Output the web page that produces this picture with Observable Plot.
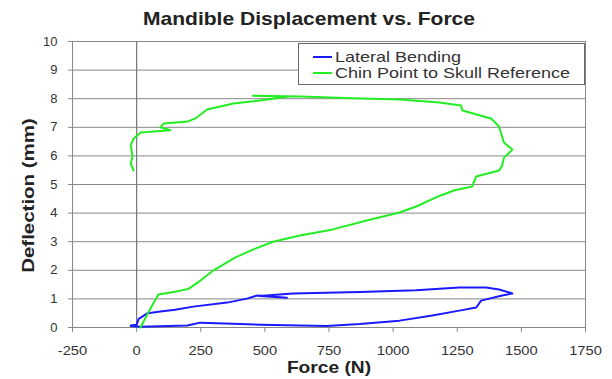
<!DOCTYPE html>
<html>
<head>
<meta charset="utf-8">
<script src="https://cdn.jsdelivr.net/npm/d3@7"></script>
<script src="https://cdn.jsdelivr.net/npm/@observablehq/plot@0.6"></script>
<style>
  body { margin: 0; background: #fff; }
  #wrap { position: relative; width: 612px; height: 379px; font-family: "Liberation Sans", Arial, sans-serif; }
  #title { height: 30px; width: 612px; box-sizing: border-box; padding-top: 9px; padding-left: 143px; font-weight: bold; font-size: 19px; line-height: 19px; color: #222; white-space: nowrap; }
  #title span { display: inline-block; transform: scaleX(1.107); transform-origin: 0 50%; }
  #legend { position: absolute; left: 298px; top: 43px; width: 287px; height: 42px; border: 1px solid #666; background: #fff; box-sizing: border-box; font-size: 15px; color: #333; padding-top: 5px; }
  .li { height: 16px; line-height: 16px; display: flex; align-items: center; white-space: nowrap; }
  .sw { width: 19px; height: 2px; margin-left: 14px; margin-right: 3px; flex: none; }
  .lt { display: inline-block; transform: scaleX(1.2); transform-origin: 0 50%; }
  svg text { fill: #333; }
  g[aria-label="x-axis label"] text, g[aria-label="y-axis label"] text { font-weight: bold; font-size: 16px; fill: #222; }
  g[aria-label="x-axis tick label"] text, g[aria-label="y-axis tick label"] text { font-size: 13px; }
</style>
</head>
<body>
<div id="wrap">
  <div id="title"><span>Mandible Displacement vs. Force</span></div>
  <div id="chart"></div>
  <div id="legend"></div>
</div>
<script>
const seriesNames = ["Lateral Bending", "Chin Point to Skull Reference"];
const seriesColors = ["#1a1aff", "#22ee22"];
const xTicks = [-250, 0, 250, 500, 750, 1000, 1250, 1500, 1750];
const yTicks = [0, 1, 2, 3, 4, 5, 6, 7, 8, 9, 10];

// Lateral Bending: [force (N), deflection (mm)]
const lateralBending = [
  [-23,0.07],[0,0.1],[8,0.3],[43,0.5],[93,0.56],[150,0.62],[221,0.73],[353,0.87],[430,1.01],[470,1.12],
  [586,1.04],[480,1.1],[609,1.19],[870,1.24],[1090,1.3],[1258,1.4],[1362,1.4],[1413,1.33],[1465,1.19],
  [1425,1.12],[1343,0.94],[1324,0.7],[1258,0.59],[1153,0.42],[1025,0.24],[870,0.12],[741,0.05],
  [481,0.1],[248,0.17],[198,0.07],[15,0.03],[-23,0.05]
];
// Chin Point to Skull Reference
const chinPoint = [
  [15,0],[50,0.6],[85,1.15],[150,1.25],[202,1.35],[250,1.65],[300,2.0],[385,2.45],[460,2.75],[532,3.0],
  [637,3.22],[765,3.43],[897,3.74],[1025,4.02],[1090,4.23],[1180,4.6],[1240,4.8],[1308,4.93],[1324,5.28],
  [1413,5.49],[1425,5.66],[1432,5.94],[1465,6.22],[1432,6.47],[1420,6.82],[1413,7.03],[1382,7.31],
  [1270,7.59],[1265,7.76],[1180,7.87],[1025,7.97],[842,8.02],[637,8.08],[454,8.1],[586,8.07],[481,7.94],
  [377,7.83],[275,7.62],[229,7.31],[198,7.2],[105,7.13],[93,7.0],[132,6.9],[105,6.88],[15,6.82],
  [-12,6.6],[-23,6.36],[-16,6.0],[-23,5.73],[-12,5.49]
];

const data = [
  ...lateralBending.map(([f, d]) => ({series: seriesNames[0], force: f, defl: d})),
  ...chinPoint.map(([f, d]) => ({series: seriesNames[1], force: f, defl: d}))
];

const fmt = d => String(d);

const chart = Plot.plot({
  width: 612,
  height: 349,
  marginLeft: 72,
  marginRight: 27,
  marginTop: 11,
  marginBottom: 52,
  style: { fontFamily: "'Liberation Sans', Arial, sans-serif", fontSize: "13px", background: "#fff" },
  x: { domain: [-250, 1750] },
  y: { domain: [0, 10] },
  color: { domain: seriesNames, range: seriesColors },
  marks: [
    Plot.gridY(yTicks, { stroke: "#888", strokeOpacity: 1 }),
    Plot.ruleX([0], { stroke: "#777", strokeWidth: 1.2 }),
    Plot.frame({ stroke: "#888" }),
    Plot.axisX(xTicks, { tickSize: 5, tickPadding: 13, stroke: "#888", tickFormat: fmt, label: "Force (N)", labelOffset: 45, labelAnchor: "center", labelArrow: "none" }),
    Plot.axisY(yTicks, { tickSize: 4, tickPadding: 11, stroke: "#888", tickFormat: fmt, label: "Deflection (mm)", labelOffset: 50, labelAnchor: "center", labelArrow: "none" }),
    Plot.line(data, { x: "force", y: "defl", z: "series", stroke: "series", strokeWidth: 2, curve: "linear" })
  ]
});

function stretch(text, s, extra) {
  const t = text.getAttribute("transform") || "";
  if (t) {
    text.setAttribute("transform", t + (extra || "") + ` scale(${s},1)`);
  } else {
    const x = +(text.getAttribute("x") || 0), y = +(text.getAttribute("y") || 0);
    text.setAttribute("transform", `translate(${x},${y})${extra || ""} scale(${s},1) translate(${-x},${-y})`);
  }
}
chart.querySelectorAll('g[aria-label="x-axis tick label"] text').forEach(t => stretch(t, 1.13));
chart.querySelectorAll('g[aria-label="x-axis label"] text').forEach(t => stretch(t, 1.2));
chart.querySelectorAll('g[aria-label="y-axis label"] text').forEach(t => stretch(t, 1.28, " translate(-11,0)"));

document.getElementById("chart").appendChild(chart);

const legend = document.getElementById("legend");
seriesNames.forEach((name, i) => {
  const row = document.createElement("div");
  row.className = "li";
  const sw = document.createElement("span");
  sw.className = "sw";
  sw.style.background = seriesColors[i];
  const t = document.createElement("span");
  t.className = "lt";
  t.textContent = name;
  row.appendChild(sw);
  row.appendChild(t);
  legend.appendChild(row);
});
</script>
</body>
</html>
